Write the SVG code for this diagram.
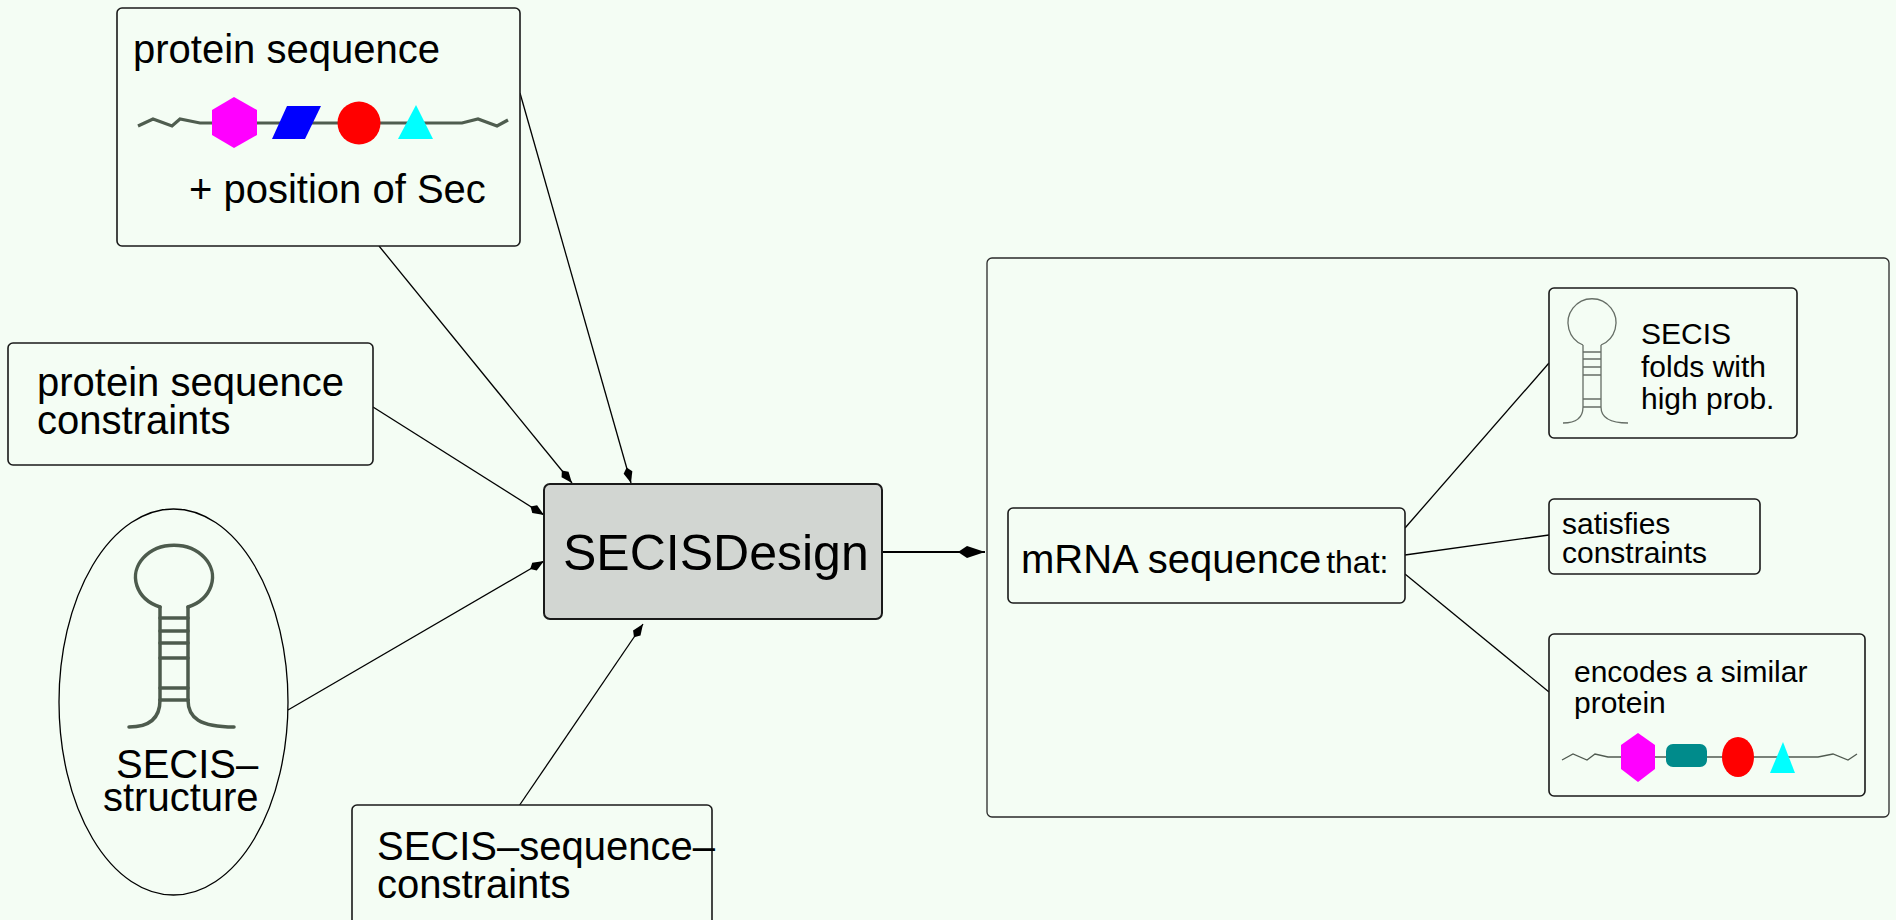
<svg xmlns="http://www.w3.org/2000/svg" width="1896" height="920" viewBox="0 0 1896 920">
  <style>
    text { font-family: "Liberation Sans", Arial, Helvetica, sans-serif; fill: #000; }
    .box { fill: #f4fdf4; stroke: #1a1a1a; stroke-width: 1.6; }
    .frame { fill: none; stroke: #2a2a2a; stroke-width: 1.3; }
    .edge { fill: none; stroke: #000; stroke-width: 1.3; }
    .thick { stroke-width: 2; }
    .hp { fill: none; stroke: #4d5b4d; stroke-width: 3.5; stroke-linecap: round; }
    .hp-thin { fill: none; stroke: #666e66; stroke-width: 1.3; }
    .chain { fill: none; stroke: #4f5d4f; stroke-width: 3.2; stroke-linejoin: miter; }
    .chain-thin { fill: none; stroke: #505a50; stroke-width: 1.3; }
    .t40 { font-size: 40px; }
    .t30 { font-size: 30px; }
  </style>
  <defs>
    <marker id="kite" viewBox="0 -5 16 10" refX="16" refY="0" markerWidth="16" markerHeight="10" markerUnits="userSpaceOnUse" orient="auto">
      <path d="M0,0 L5,-4.5 L16,0 L5,4.5 Z" fill="#000"/>
    </marker>
    <marker id="kite-big" viewBox="0 -7 27 14" refX="27" refY="0" markerWidth="27" markerHeight="14" markerUnits="userSpaceOnUse" orient="auto">
      <path d="M0,0 L9,-6 L27,0 L9,6 Z" fill="#000"/>
    </marker>
  </defs>

  <rect x="0" y="0" width="1896" height="920" fill="#f4fdf4"/>

  <!-- connectors -->
  <g id="connectors">
    <line class="edge" x1="379" y1="246" x2="572" y2="483" marker-end="url(#kite)"/>
    <line class="edge" x1="520" y1="93" x2="631" y2="483" marker-end="url(#kite)"/>
    <line class="edge" x1="373" y1="407" x2="544" y2="515" marker-end="url(#kite)"/>
    <line class="edge" x1="288" y1="710" x2="544" y2="561" marker-end="url(#kite)"/>
    <line class="edge" x1="519" y1="806" x2="643" y2="624" marker-end="url(#kite)"/>
    <line class="edge thick" x1="882" y1="552" x2="985" y2="552" marker-end="url(#kite-big)"/>
    <line class="edge" x1="1405" y1="528" x2="1549" y2="363"/>
    <line class="edge" x1="1405" y1="555" x2="1549" y2="535"/>
    <line class="edge" x1="1405" y1="574" x2="1549" y2="692"/>
  </g>

  <!-- input: protein sequence with Sec position -->
  <g id="protein-sequence">
    <rect class="box" x="117" y="8" width="403" height="238" rx="5"/>
    <text class="t40" x="133" y="63">protein sequence</text>
    <polyline class="chain" points="138,126 153,119 172,126 180,119 200,123 440,123 462,123 478,119 497,126 508,120"/>
    <polygon points="234,97 257,110 257,135 234,148 212,135 212,110" fill="#ff00ff"/>
    <polygon points="272,139 287,106 321,106 305,139" fill="#0000ff"/>
    <circle cx="359" cy="123" r="21.5" fill="#ff0000"/>
    <polygon points="398,139 416,105 433,139" fill="#00ffff"/>
    <text class="t40" x="189" y="203">+ position of Sec</text>
  </g>

  <!-- input: protein sequence constraints -->
  <g id="protein-constraints">
    <rect class="box" x="8" y="343" width="365" height="122" rx="5"/>
    <text class="t40" x="37" y="396">protein sequence</text>
    <text class="t40" x="37" y="434">constraints</text>
  </g>

  <!-- input: SECIS structure -->
  <g id="secis-structure">
    <ellipse cx="173.5" cy="702" rx="114.5" ry="193" fill="#f4fdf4" stroke="#000" stroke-width="1.3"/>
    <path class="hp" d="M160,607 A38.5,32 0 1,1 188,607"/>
    <path class="hp" d="M160,607 V700 M188,607 V700"/>
    <path class="hp" d="M160,618 H188 M160,631 H188 M160,643 H188 M160,658 H188 M160,688 H188 M160,700 H188"/>
    <path class="hp" d="M160,700 C160,718 150,727 129,727 M188,700 C188,718 200,727 234,727"/>
    <text class="t40" x="116" y="778">SECIS–</text>
    <text class="t40" x="103" y="811">structure</text>
  </g>

  <!-- input: SECIS sequence constraints -->
  <g id="secis-sequence-constraints">
    <rect class="box" x="352" y="805" width="360" height="130" rx="5"/>
    <text class="t40" x="377" y="860">SECIS–sequence–</text>
    <text class="t40" x="377" y="898">constraints</text>
  </g>

  <!-- central tool -->
  <g id="secisdesign">
    <rect x="544" y="484" width="338" height="135" rx="6" fill="#d2d6d2" stroke="#1a1a1a" stroke-width="2"/>
    <text x="563" y="570" font-size="50">SECISDesign</text>
  </g>

  <!-- output panel -->
  <g id="output">
    <rect class="frame" x="987" y="258" width="902" height="559" rx="5"/>
  </g>

  <g id="mrna">
    <rect class="box" x="1008" y="508" width="397" height="95" rx="5"/>
    <text x="1021" y="573"><tspan font-size="40">mRNA sequence</tspan><tspan font-size="32" dx="5">that:</tspan></text>
  </g>

  <g id="folds">
    <rect class="box" x="1549" y="288" width="248" height="150" rx="5"/>
    <path class="hp-thin" d="M1583,345 A24,24 0 1,1 1601,345"/>
    <path class="hp-thin" d="M1583,345 V407 M1601,345 V407"/>
    <path class="hp-thin" d="M1583,352 H1601 M1583,359 H1601 M1583,367 H1601 M1583,375 H1601 M1583,399 H1601 M1583,407 H1601"/>
    <path class="hp-thin" d="M1583,407 C1583,418 1576,423 1563,423 M1601,407 C1601,418 1610,423 1628,423"/>
    <text class="t30" x="1641" y="344">SECIS</text>
    <text class="t30" x="1641" y="377">folds with</text>
    <text class="t30" x="1641" y="409">high prob.</text>
  </g>

  <g id="satisfies">
    <rect class="box" x="1549" y="499" width="211" height="75" rx="5"/>
    <text class="t30" x="1562" y="534">satisfies</text>
    <text class="t30" x="1562" y="563">constraints</text>
  </g>

  <g id="encodes">
    <rect class="box" x="1549" y="634" width="316" height="162" rx="5"/>
    <text class="t30" x="1574" y="682">encodes a similar</text>
    <text class="t30" x="1574" y="713">protein</text>
    <polyline class="chain-thin" points="1562,760 1573,754 1587,760 1595,754 1608,757 1818,757 1833,754 1848,760 1857,754"/>
    <polygon points="1638,733 1655,745 1655,769 1638,782 1621,769 1621,745" fill="#ff00ff"/>
    <rect x="1666" y="744" width="41" height="23" rx="7" fill="#008b8b"/>
    <ellipse cx="1738" cy="757" rx="16" ry="20" fill="#ff0000"/>
    <polygon points="1770,773 1783,742 1795,773" fill="#00ffff"/>
  </g>
</svg>
